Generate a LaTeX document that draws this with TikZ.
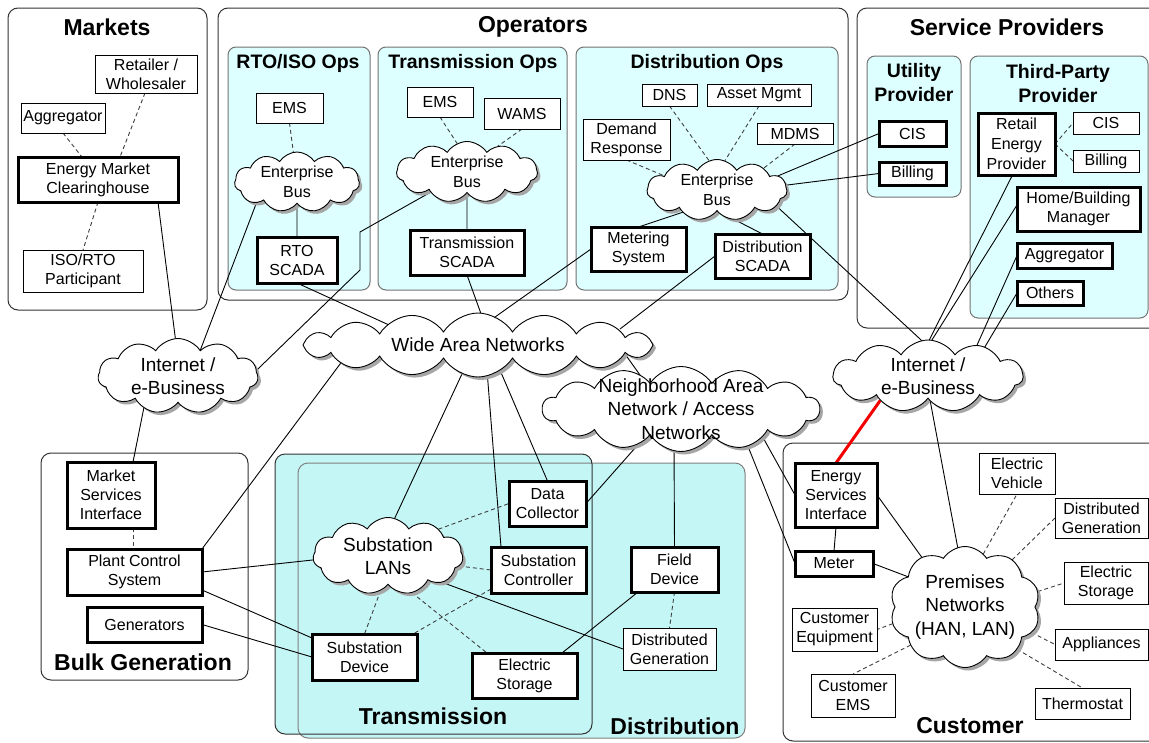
\documentclass[tikz,border=0pt]{standalone}
\usepackage{fontspec}
\setmainfont{Liberation Sans}
\usetikzlibrary{shapes.symbols,shadows,calc}

\definecolor{opsfill}{RGB}{221,255,255}
\definecolor{gridfill}{RGB}{196,246,246}
\definecolor{linkred}{RGB}{245,0,0}

\pgfdeclarelayer{groups}
\pgfdeclarelayer{wires}
\pgfsetlayers{groups,wires,main}

\tikzset{
  thinbox/.style={draw=black, line width=0.9pt, fill=white, inner sep=0pt, outer sep=0pt,
    align=center, font=\fontsize{16}{19}\selectfont},
  thickbox/.style={thinbox, line width=3pt},
  netcloud/.style={cloud, cloud puffs=11, cloud puff arc=115, cloud ignores aspect,
    draw=black, line width=0.9pt, fill=white, inner sep=0pt, outer sep=0pt, align=center,
    font=\fontsize{19}{23.5}\selectfont,
    drop shadow={shadow xshift=3pt, shadow yshift=-3pt, fill=black!35, opacity=1}},
  buscloud/.style={netcloud, font=\fontsize{16}{20}\selectfont},
  groupbox/.style={draw=black!80, line width=1pt, rounded corners=10pt},
  subbox/.style={draw=black!55, line width=1pt, fill=opsfill, rounded corners=8pt},
  grouptitle/.style={font=\fontsize{23}{26}\selectfont\bfseries, inner sep=0pt},
  subtitle/.style={font=\fontsize{19.5}{24.5}\selectfont\bfseries, inner sep=0pt, align=center},
  wire/.style={draw=black, line width=0.9pt},
  dashlink/.style={draw=black!75, line width=0.9pt, dash pattern=on 4pt off 3pt},
  redlink/.style={draw=linkred, line width=3pt},
}

\begin{document}
\begin{tikzpicture}[x=1pt,y=-1pt]
\useasboundingbox (0,0) rectangle (1149,742);

% ---------- domain frames ----------
\begin{pgfonlayer}{groups}
  \fill[white] (0,0) rectangle (1149,742);
  \draw[groupbox, fill=white] (8,8) rectangle (207,310);
  \draw[groupbox, fill=white] (218,8) rectangle (848,300);
  \draw[subbox] (228,47) rectangle (370,290);
  \draw[subbox] (378,47) rectangle (567,290);
  \draw[subbox] (576,47) rectangle (838,290);
  \draw[groupbox, fill=white] (857,8) rectangle (1168,328);
  \draw[subbox] (867,56) rectangle (961,197);
  \draw[subbox] (970,56) rectangle (1148,318);
  \draw[groupbox, fill=white] (41,453) rectangle (248,680);
  \fill[gridfill, rounded corners=10pt] (275,454) rectangle (592,734);
  \fill[gridfill, rounded corners=10pt] (298,463) rectangle (745,738);
  \draw[draw=black!50, line width=1pt, rounded corners=10pt] (298,463) rectangle (745,738);
  \draw[draw=black!80, line width=1pt, rounded corners=10pt] (275,454) rectangle (592,734);
  \draw[groupbox] (783,443) rectangle (1168,741);
\end{pgfonlayer}

% ---------- titles ----------
\node[grouptitle] (tmarkets) at (107,27) {Markets};
\node[grouptitle] (toperators) at (533,27) {Operators};
\node[grouptitle] (tservice) at (1007,27) {Service Providers};
\node[subtitle] (trto) at (298,63) {RTO/ISO Ops};
\node[subtitle] (ttrans) at (473,63) {Transmission Ops};
\node[subtitle] (tdist) at (707,63) {Distribution Ops};
\node[subtitle] (tutil) at (914,82.5) {Utility\\Provider};
\node[subtitle] (tthird) at (1058,83.5) {Third-Party\\Provider};
\node[grouptitle] (tbulk) at (143,662) {Bulk Generation};
\node[grouptitle] (ttransmission) at (433,716) {Transmission};
\node[grouptitle] (tdistribution) at (675,726) {Distribution};
\node[grouptitle] (tcustomer) at (970,726) {Customer};

% ---------- markets ----------
\node[thinbox, minimum width=102pt, minimum height=38pt] (retail) at (146,74) {Retailer /\\Wholesaler};
\node[thinbox, minimum width=84pt, minimum height=30pt] (mktagg) at (63,118) {Aggregator};
\node[thickbox, minimum width=160pt, minimum height=45pt] (emc) at (98,179.5) {Energy Market\\Clearinghouse};
\node[thinbox, minimum width=120pt, minimum height=42pt] (isop) at (83,271) {ISO/RTO\\Participant};

% ---------- RTO/ISO operations ----------
\node[thinbox, minimum width=67pt, minimum height=30pt] (rtoems) at (289.5,108) {EMS};
\node[buscloud, minimum width=125pt, minimum height=60pt] (rtobus) at (297,182) {Enterprise\\Bus};
\node[thickbox, minimum width=80pt, minimum height=46pt] (rtoscada) at (297,260) {RTO\\SCADA};

% ---------- transmission operations ----------
\node[thinbox, minimum width=66pt, minimum height=30pt] (tems) at (440,102) {EMS};
\node[thinbox, minimum width=76pt, minimum height=31pt] (wams) at (522,113.5) {WAMS};
\node[buscloud, minimum width=141pt, minimum height=61pt] (tbus) at (467,172) {Enterprise\\Bus};
\node[thickbox, minimum width=114pt, minimum height=45pt] (tscada) at (467,252.5) {Transmission\\SCADA};

% ---------- distribution operations ----------
\node[thinbox, minimum width=55pt, minimum height=22pt] (dns) at (669.5,95) {DNS};
\node[thinbox, minimum width=104pt, minimum height=22pt] (asset) at (759,95) {Asset Mgmt};
\node[thinbox, minimum width=76pt, minimum height=21pt] (mdms) at (795,133.5) {MDMS};
\node[thinbox, minimum width=87pt, minimum height=41pt] (dr) at (626.5,139.5) {Demand\\Response};
\node[buscloud, minimum width=140pt, minimum height=61pt] (dbus) at (717,190) {Enterprise\\Bus};
\node[thickbox, minimum width=95pt, minimum height=44pt] (metering) at (638.5,249) {Metering\\System};
\node[thickbox, minimum width=95pt, minimum height=44pt] (dscada) at (762.5,256) {Distribution\\SCADA};

% ---------- service providers ----------
\node[thickbox, minimum width=67pt, minimum height=25pt] (ucis) at (912.5,133.5) {CIS};
\node[thickbox, minimum width=67pt, minimum height=23pt] (ubill) at (912.5,173.5) {Billing};
\node[thickbox, minimum width=77pt, minimum height=62pt, font=\fontsize{16}{20}\selectfont] (rep) at (1016.5,144) {Retail\\Energy\\Provider};
\node[thinbox, minimum width=66pt, minimum height=22pt] (tcis) at (1106,123) {CIS};
\node[thinbox, minimum width=66pt, minimum height=22pt] (tbill) at (1106,161) {Billing};
\node[thickbox, minimum width=123pt, minimum height=44pt] (hbm) at (1078.5,209) {Home/Building\\Manager};
\node[thickbox, minimum width=95pt, minimum height=25pt] (tagg) at (1064.5,255.5) {Aggregator};
\node[thickbox, minimum width=66pt, minimum height=24pt] (others) at (1050,293) {Others};

% ---------- networks ----------
\node[netcloud, minimum width=160pt, minimum height=75pt] (inetL) at (178,376) {Internet /\\e-Business};
\node[netcloud, minimum width=190pt, minimum height=72pt] (inetR) at (928,376) {Internet /\\e-Business};
\node[netcloud, cloud puffs=16, minimum width=350pt, minimum height=64pt] (wan) at (478,345) {Wide Area Networks};
\node[netcloud, cloud puffs=14, inner ysep=-16pt, minimum width=277pt, minimum height=85pt] (nan) at (681,409) {Neighborhood Area\\Network / Access\\Networks};
\node[netcloud, minimum width=150pt, minimum height=77pt] (sublan) at (388,556) {Substation\\LANs};
\node[netcloud, cloud puffs=10, minimum width=141pt, minimum height=121pt] (prem) at (965,607) {Premises\\Networks\\(HAN, LAN)};

% ---------- bulk generation ----------
\node[thickbox, minimum width=88pt, minimum height=66pt] (msi) at (111,495) {Market\\Services\\Interface};
\node[thickbox, minimum width=135pt, minimum height=46pt] (pcs) at (134.5,572) {Plant Control\\System};
\node[thickbox, minimum width=115pt, minimum height=35pt] (gens) at (144.5,624.5) {Generators};

% ---------- transmission and distribution field equipment ----------
\node[thickbox, minimum width=77pt, minimum height=45pt] (dc) at (547.5,503.5) {Data\\Collector};
\node[thickbox, minimum width=95pt, minimum height=46pt] (sc) at (538.5,570) {Substation\\Controller};
\node[thickbox, minimum width=87pt, minimum height=45pt] (fd) at (674.5,569.5) {Field\\Device};
\node[thickbox, minimum width=105pt, minimum height=46pt] (sd) at (364.5,657) {Substation\\Device};
\node[thickbox, minimum width=105pt, minimum height=45pt] (es) at (524.5,675.5) {Electric\\Storage};
\node[thinbox, minimum width=93pt, minimum height=42pt] (dg) at (669.5,649) {Distributed\\Generation};

% ---------- customer ----------
\node[thickbox, minimum width=82pt, minimum height=64pt] (esi) at (836,495) {Energy\\Services\\Interface};
\node[thickbox, minimum width=78pt, minimum height=25pt] (meter) at (834,563.5) {Meter};
\node[thinbox, minimum width=76pt, minimum height=41pt] (ev) at (1017,473.5) {Electric\\Vehicle};
\node[thinbox, minimum width=93pt, minimum height=40pt] (cdg) at (1101.5,518) {Distributed\\Generation};
\node[thinbox, minimum width=84pt, minimum height=42pt] (ces) at (1106,583) {Electric\\Storage};
\node[thinbox, minimum width=93pt, minimum height=31pt] (appl) at (1101.5,644.5) {Appliances};
\node[thinbox, minimum width=95pt, minimum height=31pt] (thermo) at (1082.5,703.5) {Thermostat};
\node[thinbox, minimum width=85pt, minimum height=43pt] (ceq) at (834.5,629.5) {Customer\\Equipment};
\node[thinbox, minimum width=84pt, minimum height=43pt] (cems) at (853,695.5) {Customer\\EMS};

% ---------- connectors (drawn beneath the nodes) ----------
\begin{pgfonlayer}{wires}
  % markets
  \draw[dashlink] (mktagg.south) -- ([xshift=-16pt]emc.north);
  \draw[dashlink] ([xshift=-1pt]retail.south) -- ([xshift=22pt]emc.north);
  \draw[dashlink] (emc.south) -- (isop.north);
  \draw[wire] ([xshift=60pt]emc.south) -- (inetL.94);

  % RTO/ISO
  \draw[dashlink] (rtoems.south) -- (rtobus.97);
  \draw[wire] (rtobus.south) -- (rtoscada.north);
  \draw[wire] (rtobus.207) -- (inetL.49);
  \draw[wire] (rtoscada.south) -- ($(wan.center)+(-89,-20)$);

  % transmission operations
  \draw[dashlink] (tems.south) -- (tbus.109);
  \draw[dashlink] (wams.south) -- (tbus.40);
  \draw[wire] (tbus.south) -- (tscada.north);
  \draw[wire] (tbus.209) -- (360,232) -- (360,270) -- (inetL.4);
  \draw[wire] (tscada.south) -- ($(wan.center)+(6,-23)$);

  % distribution operations
  \draw[dashlink] (dns.south) -- (dbus.105);
  \draw[dashlink] (asset.south) -- (dbus.75);
  \draw[dashlink] (mdms.south) -- (dbus.25);
  \draw[dashlink] (dr.south) -- (dbus.165);
  \draw[wire] (dbus.213) -- (metering.north);
  \draw[wire] (dbus.300) -- (dscada.north);
  \draw[wire] (dbus.13) -- (ucis.west);
  \draw[wire] (dbus.4) -- (ubill.west);
  \draw[wire] (dbus.-15) -- (inetR.100);
  \draw[wire] (metering.west) -- ($(wan.center)+(10,-23)$);
  \draw[wire] (dscada.west) -- ($(wan.center)+(142,-16)$);

  % service providers
  \draw[dashlink] (rep.east) -- (tcis.west);
  \draw[dashlink] (rep.east) -- (tbill.west);
  \draw[wire] ([xshift=-4pt]rep.south) -- (inetR.88);
  \draw[wire] ([yshift=4pt]hbm.west) -- (inetR.84);
  \draw[wire] (tagg.west) -- (inetR.32);
  \draw[wire] (others.west) -- (inetR.27);

  % wide area network
  \draw[wire] ($(wan.center)+(137,-5)$) -- ($(nan.center)+(-31,-20)$);
  \draw[wire] (pcs.north east) -- ($(wan.center)+(-120,-5)$);
  \draw[wire] (wan.241) -- (sublan.80);
  \draw[wire] (wan.287) -- ([xshift=10pt]sc.north west);
  \draw[wire] (wan.311) -- (dc.north);

  % bulk generation
  \draw[wire] (inetL.223) -- ([xshift=22pt]msi.north);
  \draw[dashlink] ([xshift=22pt]msi.south) -- ([xshift=-1.5pt]pcs.north);
  \draw[wire] (pcs.east) -- (sublan.183);
  \draw[wire] ([yshift=5pt]pcs.south east) -- ([yshift=-4pt]sd.north west);
  \draw[wire] (gens.east) -- (sd.west);

  % substation and field equipment
  \draw[wire] ($(nan.center)+(-38,30)$) -- (dc.east);
  \draw[wire] ($(nan.center)+(-7,30)$) -- (fd.north);
  \draw[dashlink] (sublan.28) -- (dc.west);
  \draw[dashlink] (sublan.-8) -- (sc.west);
  \draw[dashlink] (sublan.258) -- (sd.north);
  \draw[dashlink] (sublan.303) -- ([xshift=15pt]es.north west);
  \draw[dashlink] ([yshift=4pt]sc.south west) -- ([xshift=-4pt]sd.north east);
  \draw[wire] (sublan.334) -- (dg.west);
  \draw[wire] ([xshift=7pt]fd.south west) -- ([xshift=-15pt]es.north east);
  \draw[dashlink] (fd.south) -- (dg.north);

  % customer
  \draw[redlink] (inetR.207) -- (esi.north);
  \draw[wire] (inetR.275) -- (prem.97);
  \draw[wire] (esi.south) -- (meter.north);
  \draw[wire] (esi.east) -- (prem.131);
  \draw[wire] (meter.east) -- (prem.152);
  \draw[wire] ($(nan.center)+(80,25)$) -- (esi.west);
  \draw[wire] ($(nan.center)+(62,25)$) -- (meter.west);
  \draw[dashlink] (prem.71) -- (ev.south);
  \draw[dashlink] (prem.45) -- (cdg.west);
  \draw[dashlink] (prem.12) -- (ces.west);
  \draw[dashlink] (prem.-21) -- (appl.west);
  \draw[dashlink] (prem.-39) -- (thermo.north);
  \draw[dashlink] (prem.193) -- (ceq.east);
  \draw[dashlink] (prem.215) -- (cems.north);
\end{pgfonlayer}
\end{tikzpicture}
\end{document}
